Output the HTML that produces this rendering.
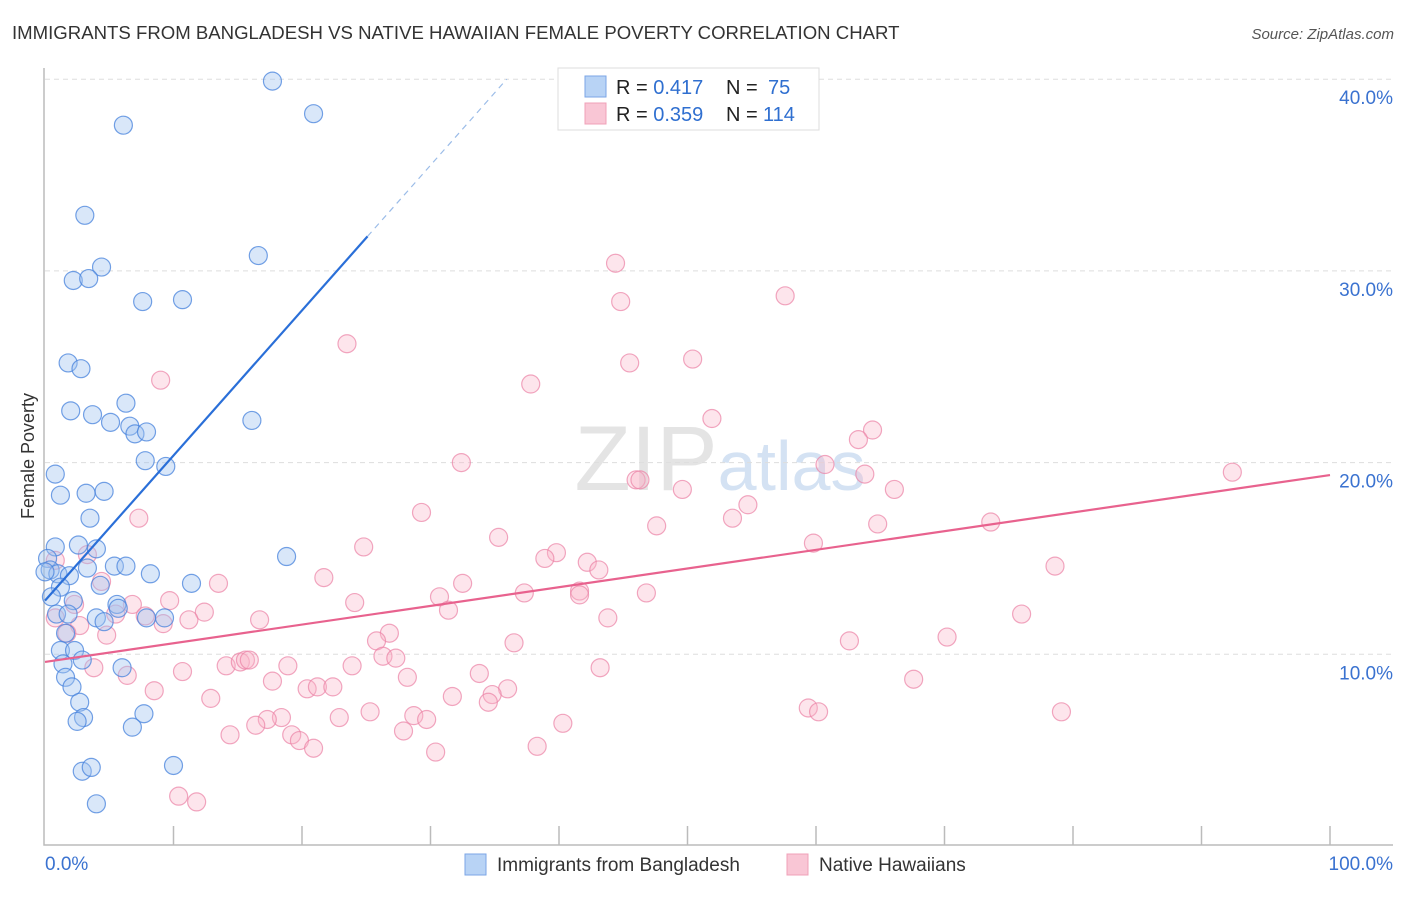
<!DOCTYPE html>
<html><head><meta charset="utf-8"><style>
body{margin:0;background:#fff;font-family:"Liberation Sans",sans-serif}
svg text{font-family:"Liberation Sans",sans-serif}
</style></head><body>
<svg id="chart" width="1406" height="892" xmlns="http://www.w3.org/2000/svg">
<text x="12" y="39" font-size="18.6" fill="#333">IMMIGRANTS FROM BANGLADESH VS NATIVE HAWAIIAN FEMALE POVERTY CORRELATION CHART</text>
<text x="1394" y="39" font-size="15" fill="#555" text-anchor="end" font-style="italic">Source: ZipAtlas.com</text>
<text x="720" y="490" font-size="92" fill="#e4e4e4" text-anchor="middle" font-family="Liberation Serif">ZIP<tspan fill="#d4e2f3" font-family="Liberation Sans" font-size="70">atlas</tspan></text>
<g id="grid"></g>
<g id="axes"></g>
<g id="pts"></g>
<g id="lines"></g>
<text transform="translate(34,456) rotate(-90)" font-size="18" fill="#333" text-anchor="middle">Female Poverty</text>
<g>
<rect x="558" y="68" width="261" height="62" fill="#fff" stroke="#ddd"/>
<rect x="585" y="76" width="21" height="21" fill="#b8d3f5" stroke="#7ba6e6"/>
<rect x="585" y="103" width="21" height="21" fill="#f9c6d5" stroke="#f0a0b8"/>
<text x="616" y="94" font-size="20" fill="#222">R = <tspan fill="#2f6fd0">0.417</tspan><tspan x="726">N = </tspan><tspan x="768" fill="#2f6fd0">75</tspan></text>
<text x="616" y="121" font-size="20" fill="#222">R = <tspan fill="#2f6fd0">0.359</tspan><tspan x="726">N = </tspan><tspan x="763" fill="#2f6fd0">114</tspan></text>
</g>
<g>
<rect x="465" y="854" width="21" height="21" fill="#b8d3f5" stroke="#7ba6e6"/>
<text x="497" y="871" font-size="19" fill="#333">Immigrants from Bangladesh</text>
<rect x="787" y="854" width="21" height="21" fill="#f9c6d5" stroke="#f0a0b8"/>
<text x="819" y="871" font-size="19" fill="#333">Native Hawaiians</text>
</g>
</svg>
<script>
const yTicks=[10,20,30,40];
const yTickLabels=["10.0%","20.0%","30.0%","40.0%"];
const xTickLabels=["0.0%","100.0%"];
const blueX=[17.7,20.9,6.1,3.1,4.4,2.2,3.4,16.6,7.6,10.7,1.8,2.8,2.0,3.7,6.3,5.1,6.6,7.0,7.9,16.1,0.8,7.8,9.4,1.2,3.2,4.6,3.5,0.8,2.6,4.0,0.2,18.8,0.4,1.0,0,1.9,3.3,5.4,6.3,8.2,11.4,4.3,1.2,0.5,2.2,5.6,0.9,1.8,4.0,5.7,7.9,9.3,4.6,1.6,1.2,2.3,1.4,2.9,6.0,1.6,2.1,2.7,3.0,2.5,7.7,6.8,2.9,3.6,10.0,4.0];
const blueY=[39.9,38.2,37.6,32.9,30.2,29.5,29.6,30.8,28.4,28.5,25.2,24.9,22.7,22.5,23.1,22.1,21.9,21.5,21.6,22.2,19.4,20.1,19.8,18.3,18.4,18.5,17.1,15.6,15.7,15.5,15.0,15.1,14.4,14.2,14.3,14.1,14.5,14.6,14.6,14.2,13.7,13.6,13.5,13.0,12.8,12.6,12.1,12.1,11.9,12.4,11.9,11.9,11.7,11.1,10.2,10.2,9.5,9.7,9.3,8.8,8.3,7.5,6.7,6.5,6.9,6.2,3.9,4.1,4.2,2.2];
const pinkX=[44.4,57.6,44.8,23.5,45.5,50.4,37.8,9.0,51.9,64.4,63.3,32.4,60.7,63.8,92.4,46.0,46.3,49.6,66.1,54.7,29.3,53.5,7.3,47.6,64.8,73.6,35.3,59.8,24.8,39.8,38.9,42.2,43.1,78.6,3.3,0.8,21.7,32.5,13.5,4.4,41.6,41.6,37.3,46.8,30.7,24.1,9.7,2.3,6.8,31.4,12.4,5.5,7.8,43.8,76.0,16.7,11.2,9.2,0.8,2.7,1.7,4.8,26.8,25.8,36.5,62.6,70.2,26.3,27.3,14.1,15.2,15.6,15.9,18.9,23.9,43.2,3.8,10.7,33.8,6.4,28.2,67.6,17.7,20.4,21.2,22.4,8.5,36.0,31.7,34.8,12.9,34.5,59.4,60.2,79.1,25.3,22.9,28.7,18.4,17.3,29.7,16.4,40.3,14.4,19.2,27.9,19.8,20.9,38.3,30.4,10.4,11.8];
const pinkY=[30.4,28.7,28.4,26.2,25.2,25.4,24.1,24.3,22.3,21.7,21.2,20.0,19.9,19.4,19.5,19.1,19.1,18.6,18.6,17.8,17.4,17.1,17.1,16.7,16.8,16.9,16.1,15.8,15.6,15.3,15.0,14.8,14.4,14.6,15.2,14.9,14.0,13.7,13.7,13.8,13.3,13.1,13.2,13.2,13.0,12.7,12.8,12.6,12.6,12.3,12.2,12.1,12.0,11.9,12.1,11.8,11.8,11.6,11.9,11.5,11.1,11.0,11.1,10.7,10.6,10.7,10.9,9.9,9.8,9.4,9.6,9.7,9.7,9.4,9.4,9.3,9.3,9.1,9.0,8.9,8.8,8.7,8.6,8.2,8.3,8.3,8.1,8.2,7.8,7.9,7.7,7.5,7.2,7.0,7.0,7.0,6.7,6.8,6.7,6.6,6.6,6.3,6.4,5.8,5.8,6.0,5.5,5.1,5.2,4.9,2.6,2.3];
const blueTrend=[12.8,0.757];
const pinkTrend=[9.6,0.0975];
const NS="http://www.w3.org/2000/svg";
const sx=v=>45+v*12.85, sy=v=>846-v*19.17;
function mk(t,a,p){const e=document.createElementNS(NS,t);for(const k in a)e.setAttribute(k,a[k]);p.appendChild(e);return e;}
const grid=document.getElementById('grid'),axes=document.getElementById('axes'),pts=document.getElementById('pts'),lines=document.getElementById('lines');
yTicks.forEach((t,i)=>{
 const g=mk('line',{x1:45,x2:1393,y1:sy(t),y2:sy(t),stroke:'#ddd','stroke-dasharray':'5,4'},grid);
 
 
 const tx=mk('text',{x:1393,y:sy(t)+25,'font-size':19,fill:'#3a72d0','text-anchor':'end'},axes);
 tx.textContent=yTickLabels[i];
 
 
});
const ax=mk('path',{d:'M44,68 V845 H1393',stroke:'#bbb',fill:'none','stroke-width':1.5},axes);


for(let i=1;i<=10;i++){const tk=mk('line',{x1:sx(i*10),x2:sx(i*10),y1:826,y2:845,stroke:'#bbb','stroke-width':1.5},axes);
 
 }
const xl0=mk('text',{x:45,y:870,'font-size':19,fill:'#3a72d0'},axes);xl0.textContent=xTickLabels[0];


const xl1=mk('text',{x:1393,y:870,'font-size':19,fill:'#3a72d0','text-anchor':'end'},axes);xl1.textContent=xTickLabels[1];


pinkX.forEach((x,i)=>{const c=mk('circle',{cx:sx(x),cy:sy(pinkY[i]),r:9,fill:'rgba(248,180,200,0.35)',stroke:'rgba(235,130,165,0.7)','stroke-width':1.2},pts);
 
 });
blueX.forEach((x,i)=>{const c=mk('circle',{cx:sx(x),cy:sy(blueY[i]),r:9,fill:'rgba(160,195,240,0.4)',stroke:'rgba(70,130,220,0.75)','stroke-width':1.2},pts);
 
 });
const bEnd=25.1,bMax=(40-blueTrend[0])/blueTrend[1];
const bl=mk('line',{x1:sx(0),y1:sy(blueTrend[0]),x2:sx(bEnd),y2:sy(blueTrend[0]+blueTrend[1]*bEnd),stroke:'#2a6fd8','stroke-width':2.2},lines);


const bd=mk('line',{x1:sx(bEnd),y1:sy(blueTrend[0]+blueTrend[1]*bEnd),x2:sx(bMax),y2:sy(40),stroke:'#9bbce8','stroke-width':1.2,'stroke-dasharray':'6,5'},lines);


const pl=mk('line',{x1:sx(0),y1:sy(pinkTrend[0]),x2:sx(100),y2:sy(pinkTrend[0]+pinkTrend[1]*100),stroke:'#e8628e','stroke-width':2.2},lines);


</script>
</body></html>
